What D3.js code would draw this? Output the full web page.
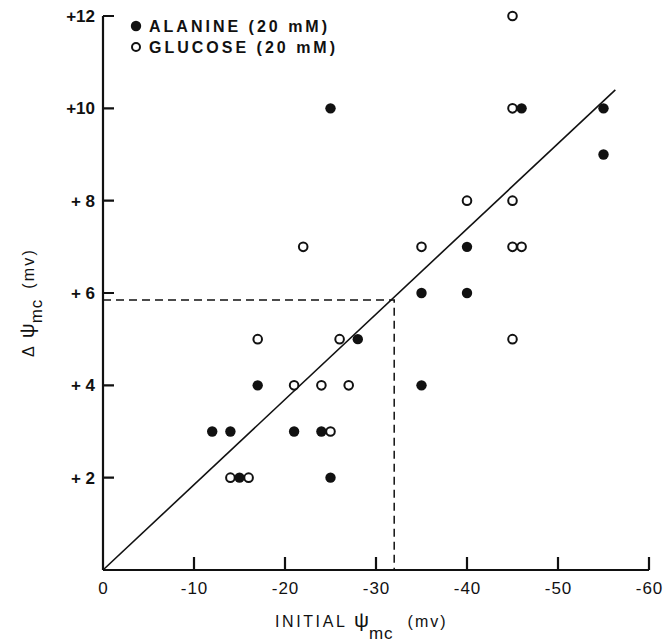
<!DOCTYPE html>
<html lang="en">
<head>
<meta charset="utf-8">
<title>Delta psi vs initial psi</title>
<script src="https://cdn.jsdelivr.net/npm/d3@7"></script>
<style>
  body { margin: 0; background: #fff; }
  text { font-family: "Liberation Sans", Arial, sans-serif; fill: #111; }
</style>
</head>
<body>
<script>
// values (x = initial psi in mV, y = delta psi in mV)
var alanineX = [-12, -14, -15, -17, -21, -24, -25, -25, -28, -35, -35, -40, -40, -46, -55, -55];
var alanineY = [3, 3, 2, 4, 3, 3, 2, 10, 5, 4, 6, 7, 6, 10, 10, 9];
var glucoseX = [-14, -16, -17, -21, -22, -24, -25, -26, -27, -35, -40, -45, -45, -45, -45, -46, -45];
var glucoseY = [2, 2, 5, 4, 7, 4, 3, 5, 4, 7, 8, 12, 10, 8, 7, 7, 5];
var fitX = [0, -56.3];
var fitY = [0, 10.4];
var markX = -32, markY = 5.85;
var xTicks = [0, -10, -20, -30, -40, -50, -60];
var yTicks = [2, 4, 6, 8, 10, 12];
var yTickLabels = ["+ 2", "+ 4", "+ 6", "+ 8", "+10", "+12"];

var w = 666, h = 644;
var svg = d3.select("body").append("svg").attr("width", w).attr("height", h);

var x = d3.scaleLinear().domain([0, -60]).range([103, 649]);
var y = d3.scaleLinear().domain([0, 12]).range([570, 16]);

// axis frame and inward tick marks as one path each
var xPath = "M" + x(0) + "," + y(0) + "H" + x(-60);
xTicks.slice(1).forEach(function(d) { xPath += "M" + x(d) + "," + y(0) + "V" + (y(0) - 13); });
svg.append("path").attr("d", xPath).attr("fill", "none").attr("stroke", "#111").attr("stroke-width", 2.2);

var yPath = "M" + x(0) + "," + y(0) + "V" + y(12);
yTicks.forEach(function(d) { yPath += "M" + x(0) + "," + y(d) + "H" + (x(0) + 11); });
svg.append("path").attr("d", yPath).attr("fill", "none").attr("stroke", "#111").attr("stroke-width", 2.2);

// tick labels from d3 axes
var xAxis = d3.axisBottom(x).tickValues(xTicks).tickSize(0).tickPadding(10)
  .tickFormat(function(d) { return d === 0 ? "0" : "-" + Math.abs(d); });
var gx = svg.append("g").attr("transform", "translate(0," + y(0) + ")").call(xAxis);
gx.select(".domain").remove();
gx.selectAll(".tick text").attr("font-size", 17).attr("dy", "0.82em").attr("letter-spacing", 1);

var yAxis = d3.axisLeft(y).tickValues(yTicks).tickSize(0).tickPadding(9)
  .tickFormat(function(d, i) { return yTickLabels[i]; });
var gy = svg.append("g").attr("transform", "translate(" + x(0) + ",0)").call(yAxis);
gy.select(".domain").remove();
gy.selectAll(".tick text").attr("font-size", 17).attr("font-weight", "bold")
  .attr("x", -8).attr("style", "white-space:pre");

// axis titles
var xt = svg.append("text").attr("x", 275).attr("y", 627)
  .attr("font-size", 16).attr("letter-spacing", 2.6);
xt.append("tspan").text("INITIAL ");
xt.append("tspan").attr("font-size", 21).attr("letter-spacing", 0).text("\u03c8");
xt.append("tspan").attr("font-size", 17).attr("dy", 12).attr("letter-spacing", 1).text("mc");
xt.append("tspan").attr("dy", -12).attr("dx", 14).attr("letter-spacing", 2).text("(mv)");

var yt = svg.append("text").attr("transform", "translate(34,357) rotate(-90)")
  .attr("font-size", 16).attr("letter-spacing", 2.2);
yt.append("tspan").text("\u0394 ");
yt.append("tspan").attr("font-size", 21).attr("letter-spacing", 0).text("\u03c8");
yt.append("tspan").attr("dy", 8).attr("font-size", 17).attr("letter-spacing", 1).text("mc");
yt.append("tspan").attr("dy", -8).attr("dx", 10).text("(mv)");

// guide lines
svg.append("path")
  .attr("d", "M" + x(0) + "," + y(markY) + "H" + x(markX) + "V" + y(0))
  .attr("fill", "none").attr("stroke", "#111").attr("stroke-width", 1.5)
  .attr("stroke-dasharray", "8,5");

// fitted line
var fit = d3.zip(fitX, fitY);
svg.append("path")
  .attr("d", d3.line().x(function(d) { return x(d[0]); }).y(function(d) { return y(d[1]); })(fit))
  .attr("fill", "none").attr("stroke", "#111").attr("stroke-width", 1.6);

// points
svg.selectAll("circle.glu").data(d3.zip(glucoseX, glucoseY)).enter().append("circle")
  .attr("class", "glu")
  .attr("cx", function(d) { return x(d[0]); })
  .attr("cy", function(d) { return y(d[1]); })
  .attr("r", 4.3).attr("fill", "#fff").attr("stroke", "#111").attr("stroke-width", 2);

svg.selectAll("circle.ala").data(d3.zip(alanineX, alanineY)).enter().append("circle")
  .attr("class", "ala")
  .attr("cx", function(d) { return x(d[0]); })
  .attr("cy", function(d) { return y(d[1]); })
  .attr("r", 5.2).attr("fill", "#111");

// legend
var legend = [{label: "ALANINE (20 mM)", filled: true}, {label: "GLUCOSE (20 mM)", filled: false}];
var lg = svg.selectAll("g.leg").data(legend).enter().append("g")
  .attr("transform", function(d, i) { return "translate(136," + (26 + i * 21) + ")"; });
lg.append("circle").attr("r", function(d) { return d.filled ? 5.2 : 4; })
  .attr("fill", function(d) { return d.filled ? "#111" : "#fff"; })
  .attr("stroke", "#111").attr("stroke-width", function(d) { return d.filled ? 0 : 2; });
lg.append("text").attr("x", 13).attr("y", 6).attr("font-size", 16).attr("font-weight", "bold")
  .attr("letter-spacing", 3).text(function(d) { return d.label; });
</script>
</body>
</html>
